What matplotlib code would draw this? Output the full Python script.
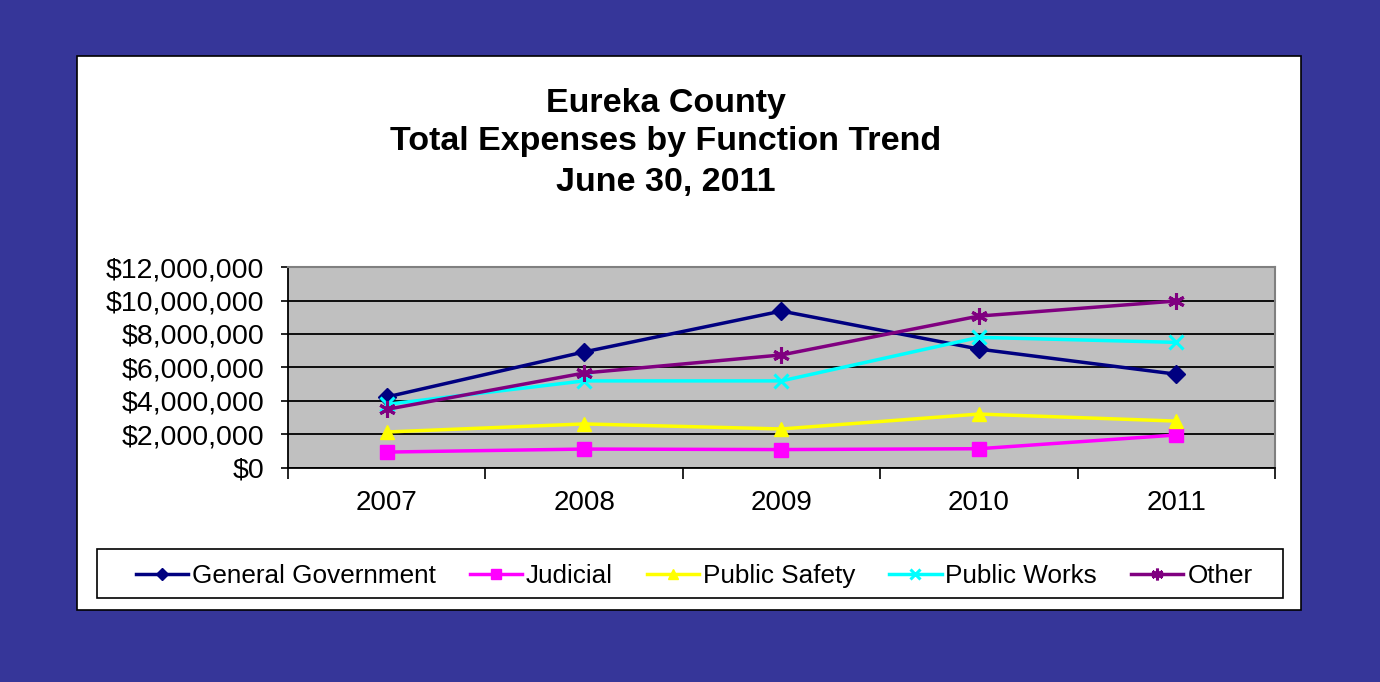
import numpy as np
import matplotlib
matplotlib.use("Agg")
import matplotlib.pyplot as plt
from matplotlib.patches import Rectangle
from matplotlib.ticker import FuncFormatter

plt.rcParams["font.family"] = ["Liberation Sans", "DejaVu Sans"]

years = ["2007", "2008", "2009", "2010", "2011"]
general_government = [4240000, 6930000, 9370000, 7100000, 5600000]
judicial = [950000, 1130000, 1100000, 1150000, 1970000]
public_safety = [2150000, 2630000, 2330000, 3220000, 2800000]
public_works = [3800000, 5200000, 5200000, 7800000, 7500000]
other = [3500000, 5670000, 6750000, 9070000, 9970000]

title_lines = ["Eureka County", "Total Expenses by Function Trend", "June 30, 2011"]

fig = plt.figure(figsize=(13.8, 6.82), dpi=100, facecolor="#363699")

# white panel behind the chart
fig.patches.append(Rectangle((0.0558, 0.1056), 0.887, 0.8123, transform=fig.transFigure,
                             facecolor="white", edgecolor="black", linewidth=1.2, zorder=-2))

for txt, yy in zip(title_lines, [0.848, 0.793, 0.732]):
    fig.text(0.4826, yy, txt, ha="center", va="center", fontsize=24.5, fontweight="bold")

ax = fig.add_axes([0.2087, 0.3138, 0.7152, 0.2947], zorder=2)
ax.set_facecolor("#C0C0C0")
x = np.arange(len(years))

series = [
    ("General Government", general_government, "#000080", "D", 9),
    ("Judicial", judicial, "#FF00FF", "s", 10),
    ("Public Safety", public_safety, "#FFFF00", "^", 10),
    ("Public Works", public_works, "#00FFFF", "x", 10),
    ("Other", other, "#800080", (6, 2, 0), 12),
]
handles = []
for name, vals, col, mk, ms in series:
    h, = ax.plot(x, vals, color=col, marker=mk, markersize=ms, linewidth=2.5,
                 markeredgewidth=2.2 if mk in ("x", (6, 2, 0)) else 1, markeredgecolor=col,
                 label=name, zorder=3)
    handles.append(h)

ax.set_xlim(-0.5, 4.5)
ax.set_ylim(0, 12000000)
ax.set_yticks(np.arange(0, 12000001, 2000000))
ax.yaxis.set_major_formatter(FuncFormatter(lambda v, p: "${:,.0f}".format(v)))
ax.grid(axis="y", color="black", linewidth=1.3)
ax.set_axisbelow(True)

ax.set_xticks(x, years)
ax.set_xticks(np.arange(-0.5, 5), minor=True)
ax.tick_params(axis="x", which="major", length=0, pad=16, labelsize=20)
ax.tick_params(axis="x", which="minor", length=8, width=1.2, direction="out")
ax.tick_params(axis="y", length=5, width=1.2, direction="out", pad=12, labelsize=20.5)

for side in ("top", "right"):
    ax.spines[side].set_color("#808080")
    ax.spines[side].set_linewidth(1.5)
for side in ("left", "bottom"):
    ax.spines[side].set_color("black")
    ax.spines[side].set_linewidth(1.3)

# legend box
fig.patches.append(Rectangle((0.0703, 0.1232), 0.8594, 0.0718, transform=fig.transFigure,
                             facecolor="white", edgecolor="black", linewidth=1.2, zorder=-1))
leg = fig.legend(handles=handles, loc="center", bbox_to_anchor=(0.503, 0.155), ncol=5,
                 frameon=False, fontsize=18.8, handlelength=2.0, handletextpad=0.15,
                 columnspacing=1.3, markerscale=0.7)
leg.set_zorder(3)

fig.savefig("out.png", dpi=100, facecolor=fig.get_facecolor())
